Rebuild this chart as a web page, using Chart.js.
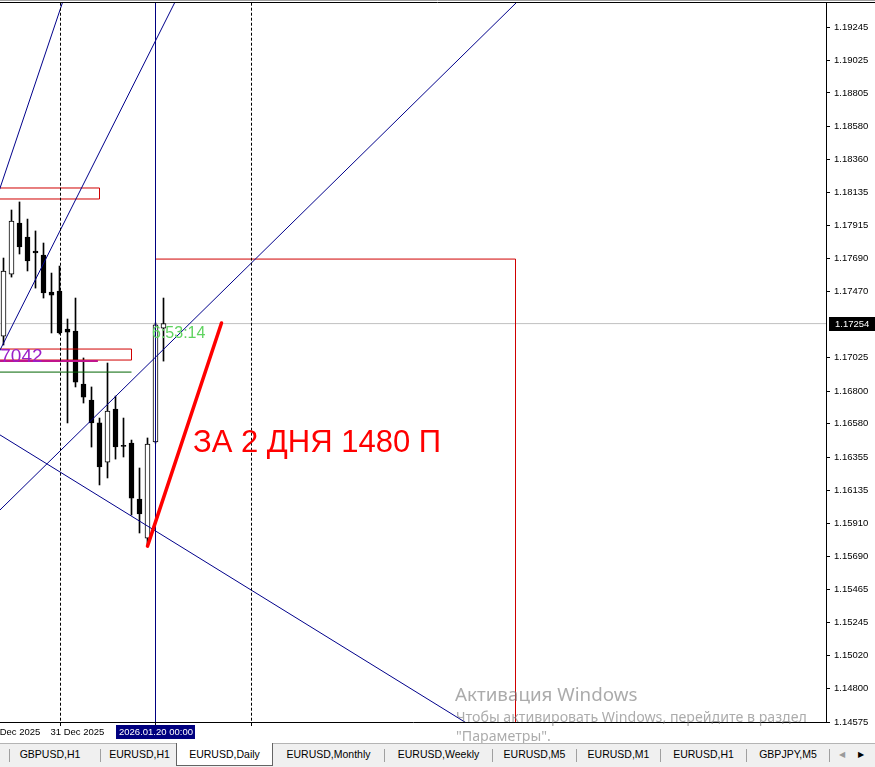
<!DOCTYPE html>
<html>
<head>
<meta charset="utf-8">
<script src="https://cdn.jsdelivr.net/npm/chart.js@4.4.1/dist/chart.umd.min.js"></script>
<style>
html,body{margin:0;padding:0;background:#fff;width:875px;height:767px;overflow:hidden;font-family:"Liberation Sans",Arial,sans-serif;}
#wrap{position:relative;width:875px;height:767px;}
#c{position:absolute;left:0;top:0;}
#tabs{position:absolute;left:0;top:743px;width:875px;height:24px;background:#f0f0f0;border-top:1px solid #b4b4b4;box-sizing:border-box;}
.tab{position:absolute;top:0;height:22px;line-height:21px;font-size:10.5px;color:#000;text-align:center;white-space:nowrap;}
.sep{position:absolute;top:5px;width:1px;height:13px;background:#a0a0a0;}
.active{background:#fff;border:1px solid #646464;border-top:none;height:23px;top:-1px;line-height:23px;box-sizing:border-box;}
.arr{position:absolute;top:4px;font-size:8px;line-height:14px;}
.wm{position:absolute;color:rgba(120,120,120,0.62);font-family:"Noto Sans","Open Sans",sans-serif;white-space:nowrap;}
</style>
</head>
<body>
<div id="wrap">
<canvas id="c" width="875" height="743"></canvas>
<div class="wm" style="left:455px;top:682px;font-size:18.8px;line-height:25px;">Активация Windows</div>
<div class="wm" style="left:456px;top:708px;font-size:14.2px;line-height:18px;">Чтобы активировать Windows, перейдите в раздел</div>
<div class="wm" style="left:456px;top:727px;font-size:14.2px;line-height:18px;">"Параметры".</div>
<div id="tabs">
  <div class="sep" style="left:9px"></div>
  <div class="tab" style="left:10px;width:80px">GBPUSD,H1</div>
  <div class="sep" style="left:100px"></div>
  <div class="tab" style="left:101px;width:77px">EURUSD,H1</div>
  <div class="tab active" style="left:176px;width:97px">EURUSD,Daily</div>
  <div class="tab" style="left:273px;width:111px">EURUSD,Monthly</div>
  <div class="sep" style="left:384px"></div>
  <div class="tab" style="left:385px;width:107px">EURUSD,Weekly</div>
  <div class="sep" style="left:492px"></div>
  <div class="tab" style="left:493px;width:83px">EURUSD,M5</div>
  <div class="sep" style="left:576px"></div>
  <div class="tab" style="left:577px;width:83px">EURUSD,M1</div>
  <div class="sep" style="left:660px"></div>
  <div class="tab" style="left:661px;width:85px">EURUSD,H1</div>
  <div class="sep" style="left:746px"></div>
  <div class="tab" style="left:747px;width:82px">GBPJPY,M5</div>
  <div class="sep" style="left:829px"></div>
  <div class="arr" style="left:839px;color:#9a9a9a">◀</div>
  <div class="arr" style="left:858px;color:#000">▶</div>
</div>
</div>
<script>
// ---- data ----
const dates = ["2025.12.22","2025.12.23","2025.12.24","2025.12.26","2025.12.29","2025.12.30","2025.12.31",
  "2026.01.02","2026.01.05","2026.01.06","2026.01.07","2026.01.08","2026.01.09","2026.01.12","2026.01.13",
  "2026.01.14","2026.01.15","2026.01.16","2026.01.19","2026.01.20","2026.01.21"];
const openP  = [1.17170,1.17587,1.17930,1.17836,1.17742,1.17715,1.17466,1.17473,1.17218,1.17204,1.16848,1.16740,1.16586,1.16323,1.16680,1.16431,1.16451,1.16074,1.15812,1.16458,1.17224];
const highP  = [1.17695,1.18018,1.18072,1.17957,1.17877,1.17796,1.17594,1.17641,1.17285,1.17426,1.17023,1.16828,1.16619,1.16989,1.16767,1.16619,1.16471,1.16283,1.16485,1.17258,1.17426];
const lowP   = [1.17110,1.17567,1.17722,1.17608,1.17493,1.17426,1.17191,1.17184,1.16586,1.16828,1.16720,1.16424,1.16169,1.16216,1.16343,1.16357,1.15967,1.15846,1.15758,1.16451,1.17002];
const closeP = [1.17608,1.17944,1.17769,1.17675,1.17729,1.17460,1.17446,1.17191,1.17197,1.16861,1.16760,1.16586,1.16290,1.16666,1.16424,1.16428,1.16081,1.15974,1.16444,1.17245,1.17254];
const yTickValues = [1.19245,1.19025,1.18805,1.18580,1.18360,1.18135,1.17915,1.17690,1.17470,1.17025,1.16800,1.16580,1.16355,1.16135,1.15910,1.15690,1.15465,1.15245,1.15020,1.14800,1.14575];
const currentPrice = 1.17254;
const dateTickLabels = ["18 Dec 2025","31 Dec 2025"];
const dateTickIndex = [-2, 6];
const markerLabel = "2026.01.20 00:00";
const markerIndex = 19;
const periodSeparators = [7.125, 31];
// chart objects in (bar index, price)
const trendLine1 = [[-0.8125,1.18105],[7.9,1.19497]];
const trendLine2 = [[-0.8125,1.17036],[22.19,1.19497]];
const trendLine3 = [[-0.8125,1.15981],[65.71,1.19497]];
const trendLine4 = [[-0.8125,1.16518],[60.31,1.14487]];
const rectA = [-1,12,1.18166,1.18092];
const rectB = [-1,16,1.17083,1.17009];
const rectC = [19,64,1.17688,1.14400];
const magentaLevel = [-1,11.8,1.17002];
const greenLevel = [-1,16,1.16928];
const redMove = [[18,1.15758],[27.25,1.17258]];
const texts = [
  {t:"7042", i:-0.4, p:1.16995, font:'19px "Liberation Sans"', color:'#9a1fc8'},
  {t:"6:53:14", i:18.5625, p:1.17154, font:'16px "Liberation Sans"', color:'#5fd35f'},
  {t:"ЗА 2 ДНЯ 1480 П", i:23.6875, p:1.16390, font:'31px "Liberation Sans"', color:'#ff0000'}
];

// ---- build datasets ----
const X_MIN = -0.4375, X_MAX = 102.8125, Y_MIN = 1.14575, Y_MAX = 1.19410;
const pts = arr => arr.map(a => ({x:a[0], y:a[1]}));
const rectPts = r => [{x:r[0],y:r[2]},{x:r[1],y:r[2]},{x:r[1],y:r[3]},{x:r[0],y:r[3]},{x:r[0],y:r[2]}];
const lineDs = (data, color, width, order, extra) => Object.assign({
  type:'line', data, borderColor:color, borderWidth:width, pointRadius:0, fill:false,
  tension:0, order, spanGaps:true
}, extra||{});

const wicks = dates.map((d,i)=>({x:i, y:[lowP[i], highP[i]]}));
const bodies = dates.map((d,i)=>({x:i, y:[openP[i], closeP[i]]}));
const bodyFill = dates.map((d,i)=> closeP[i] >= openP[i] ? '#ffffff' : '#000000');

const datasets = [
  lineDs([{x:X_MIN-1,y:currentPrice},{x:X_MAX+1,y:currentPrice}], '#c0c0c0', 1, 100),
  {type:'bar', data:wicks, backgroundColor:'#000', borderWidth:0, barThickness:1, grouped:false, order:90},
  {type:'bar', data:bodies, backgroundColor:bodyFill, borderColor:'#000', borderWidth:1, borderSkipped:false,
   barThickness:5, grouped:false, minBarLength:1, order:80},
  lineDs(rectPts(rectA), '#d00000', 1, 50),
  lineDs(rectPts(rectB), '#d00000', 1, 50),
  lineDs(rectPts(rectC), '#d00000', 1, 50),
  lineDs([{x:magentaLevel[0],y:magentaLevel[2]},{x:magentaLevel[1],y:magentaLevel[2]}], '#c0148c', 2, 45),
  lineDs([{x:greenLevel[0],y:greenLevel[2]},{x:greenLevel[1],y:greenLevel[2]}], '#006400', 1, 45),
  lineDs(pts(trendLine1), '#00008b', 1, 40),
  lineDs(pts(trendLine2), '#00008b', 1, 40),
  lineDs(pts(trendLine3), '#00008b', 1, 40),
  lineDs(pts(trendLine4), '#00008b', 1, 40),
  ...periodSeparators.map(s => lineDs([{x:s,y:Y_MIN-0.01},{x:s,y:Y_MAX+0.01}], '#000', 1, 35, {borderDash:[3,2]})),
  lineDs([{x:markerIndex,y:Y_MIN-0.01},{x:markerIndex,y:Y_MAX+0.01}], '#000080', 1, 30),
  lineDs(pts(redMove), '#ff0000', 3.5, 10, {borderCapStyle:'round'})
];

const overlay = {
  id:'overlay',
  beforeDraw(chart){
    const ctx = chart.ctx;
    ctx.save(); ctx.fillStyle = '#fff'; ctx.fillRect(0,0,chart.width,chart.height); ctx.restore();
  },
  afterDatasetsDraw(chart){
    const ctx = chart.ctx, xs = chart.scales.x, ys = chart.scales.y, ca = chart.chartArea;
    ctx.save();
    ctx.beginPath(); ctx.rect(ca.left, ca.top, ca.right-ca.left, ca.bottom-ca.top); ctx.clip();
    ctx.textBaseline = 'alphabetic'; ctx.textAlign = 'left';
    texts.forEach(o => { ctx.font = o.font; ctx.fillStyle = o.color; ctx.fillText(o.t, xs.getPixelForValue(o.i), ys.getPixelForValue(o.p)); });
    ctx.restore();
  },
  afterDraw(chart){
    const ctx = chart.ctx, xs = chart.scales.x, ys = chart.scales.y, ca = chart.chartArea;
    ctx.save();
    // top frame
    ctx.strokeStyle = '#a0a0a0'; ctx.lineWidth = 1;
    ctx.beginPath(); ctx.moveTo(0,0.5); ctx.lineTo(chart.width,0.5); ctx.stroke();
    ctx.strokeStyle = '#000';
    ctx.beginPath(); ctx.moveTo(0,2.5); ctx.lineTo(chart.width,2.5); ctx.stroke();
    // current price box
    const yp = ys.getPixelForValue(currentPrice);
    ctx.fillStyle = '#000'; ctx.fillRect(ca.right+3, Math.round(yp)-7, chart.width-ca.right-3, 14);
    ctx.fillStyle = '#fff'; ctx.font = '9.5px "Liberation Sans"'; ctx.textBaseline = 'middle'; ctx.textAlign = 'left';
    ctx.fillText(currentPrice.toFixed(5), ca.right+9, Math.round(yp));
    // date labels
    ctx.fillStyle = '#000'; ctx.textBaseline = 'middle';
    dateTickLabels.forEach((t,k) => ctx.fillText(t, xs.getPixelForValue(dateTickIndex[k]) - 1, ca.bottom + 10));
    // marker box
    const mx = Math.round(xs.getPixelForValue(markerIndex));
    ctx.fillStyle = '#000080'; ctx.fillRect(mx-40, ca.bottom+3, 79, 14);
    ctx.fillStyle = '#fff'; ctx.textAlign = 'center';
    ctx.fillText(markerLabel, mx, ca.bottom+10);
    ctx.restore();
  }
};

new Chart(document.getElementById('c'), {
  type:'bar',
  data:{datasets},
  options:{
    responsive:false, animation:false, devicePixelRatio:1, events:[],
    layout:{padding:{top:3,left:0,right:0,bottom:0}},
    plugins:{legend:{display:false}, tooltip:{enabled:false}},
    scales:{
      x:{type:'linear', min:X_MIN, max:X_MAX, offset:false,
         afterBuildTicks(s){ s.ticks = [7.125, markerIndex, 31].map(v=>({value:v})); },
         afterFit(s){ s.height = 21; s.paddingLeft = 0; s.paddingRight = 0; },
         ticks:{display:false},
         grid:{offset:false, drawOnChartArea:false, drawTicks:true, tickLength:4, color:'#000'},
         border:{display:true, color:'#000', width:1}},
      y:{type:'linear', position:'right', min:Y_MIN, max:Y_MAX,
         afterBuildTicks(s){ s.ticks = yTickValues.map(v=>({value:v})); },
         afterFit(s){ s.width = 49; s.paddingTop = 0; s.paddingBottom = 0; },
         ticks:{callback:v=>Number(v).toFixed(5), color:'#000', font:{family:'"Liberation Sans"', size:9.5}, padding:4, autoSkip:false},
         grid:{offset:false, drawOnChartArea:false, drawTicks:true, tickLength:4, color:'#000'},
         border:{display:true, color:'#000', width:1}}
    }
  },
  plugins:[overlay]
});
</script>
</body>
</html>
